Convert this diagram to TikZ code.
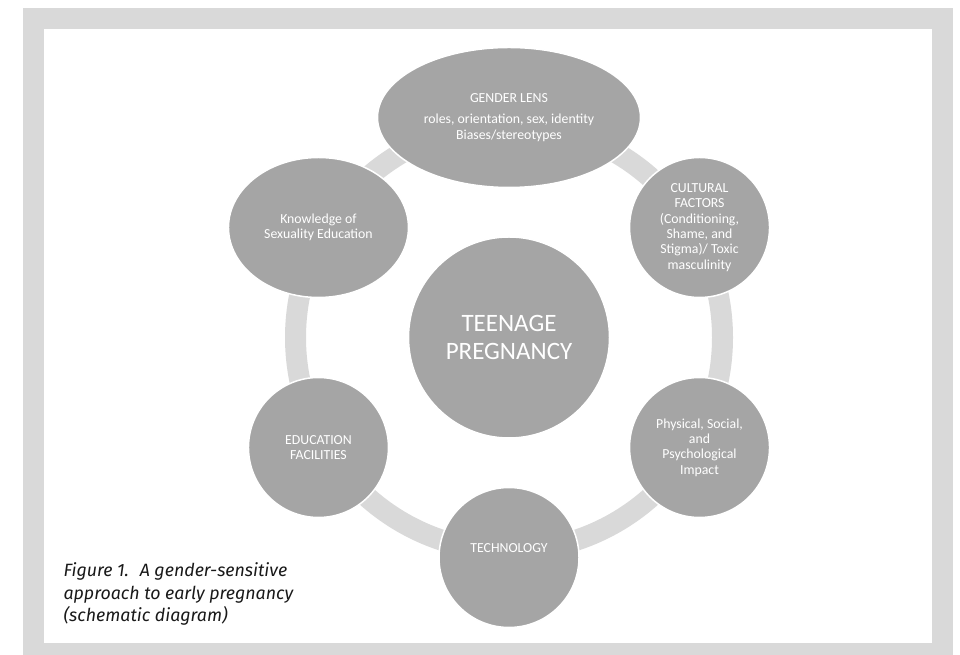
\documentclass[tikz,border=0pt]{standalone}
\usepackage{fontspec}
\setmainfont{Carlito}
\newfontfamily\capfont{Fira Sans}
\usetikzlibrary{calc,shapes.geometric}

\definecolor{nodegrey}{HTML}{A5A5A5}
\definecolor{ringgrey}{HTML}{D9D9D9}
\definecolor{framegrey}{HTML}{D9D9D9}

\begin{document}
\begin{tikzpicture}[
  x=1pt, y=1pt,
  bubble/.style={circle, fill=nodegrey, draw=white, line width=1.5pt, inner sep=0pt, align=center, text=white},
  hub/.style={bubble, minimum size=201pt, font=\fontsize{25}{28}\selectfont},
  factor/.style={bubble, minimum size=140pt, font=\fontsize{13.8}{15.3}\selectfont},
  oval/.style={factor, ellipse, minimum width=#1, minimum height=140pt},
  ring/.style={draw=ringgrey, line width=21pt},
  caption/.style={anchor=base west, align=left, text=black!90, font=\capfont\itshape\fontsize{17.8}{22.5}\selectfont}
]

% frame
\useasboundingbox (0,0) rectangle (960,655);
\fill[framegrey] (23,0) rectangle (953,647);
\fill[white] (44,12) rectangle (932,626);

% hub and the ring round it
\node[hub] (teen) at (509,317.5) {TEENAGE\\PREGNANCY};
\draw[ring] (teen.center) circle[radius=213.5];

% factors round the ring
\node[oval=263pt] (gender) at ($(teen)+(90:220)$) {GENDER LENS\\[6pt]\fontsize{13.8}{14.3}\selectfont roles, orientation, sex, identity\\\fontsize{13.8}{14.3}\selectfont Biases/stereotypes};
\node[factor] (culture) at ($(teen)+(30:220)$) {CULTURAL\\FACTORS\\(Conditioning,\\Shame, and\\Stigma)/ Toxic\\masculinity};
\node[factor] (impact) at ($(teen)+(-30:220)$) {Physical, Social,\\and\\Psychological\\Impact};
\node[factor, label={[text=white, font=\fontsize{13.8}{15}\selectfont, yshift=9pt]center:TECHNOLOGY}] (tech) at ($(teen)+(-90:220)$) {};
\node[factor] (facility) at ($(teen)+(-150:220)$) {EDUCATION\\FACILITIES};
\node[oval=180pt] (know) at ($(teen)+(150:220)$) {Knowledge of\\Sexuality Education};

\node[caption] (cap) at (60,33) {Figure 1.~ A gender-sensitive\\approach to early pregnancy\\(schematic diagram)};

\end{tikzpicture}
\end{document}
